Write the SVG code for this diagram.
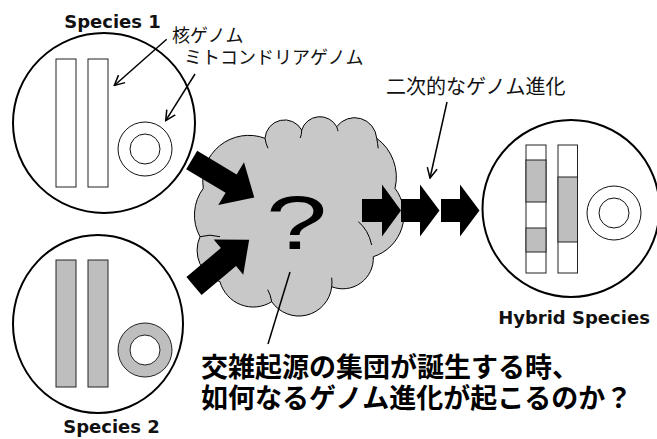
<svg xmlns="http://www.w3.org/2000/svg" width="657" height="439" viewBox="0 0 657 439">
  <style>
    .cell { fill: none; stroke: #000; stroke-width: 2; }
    .bar { fill: #fff; stroke: #222; stroke-width: 1; }
    .bar-g { fill: #bebebe; stroke: #222; stroke-width: 1; }
    .mito { fill: none; stroke: #111; stroke-width: 1; }
    .mito-g { fill: #bebebe; stroke: #222; stroke-width: 1; }
    .title { font-family: "DejaVu Sans", Verdana, sans-serif; font-weight: bold; font-size: 18px; fill: #111; text-anchor: middle; }
    .note { font-family: "Noto Sans CJK JP", "Noto Sans", sans-serif; fill: #111; }
    .big { font-family: "Noto Sans CJK JP", "Noto Sans", sans-serif; font-weight: bold; font-size: 27px; fill: #000; }
    .block { fill: #000; }
    .callout { fill: none; stroke: #000; stroke-width: 1.5; }
    .cloud { fill: #c8c8c8; stroke: #000; stroke-width: 1; }
    .cloud-inner { fill: none; stroke: #000; stroke-width: 1; }
  </style>
  <defs>
    <marker id="open-head" viewBox="0 0 12 12" refX="11" refY="6" markerWidth="12" markerHeight="12" markerUnits="userSpaceOnUse" orient="auto">
      <path d="M1,1 L11,6 L1,11" fill="none" stroke="#000" stroke-width="1.5"/>
    </marker>
  </defs>

  <!-- Species 1 -->
  <g id="species1">
    <ellipse class="cell" cx="104" cy="123" rx="91" ry="90"/>
    <rect class="bar" x="56" y="59" width="20" height="128"/>
    <rect class="bar" x="88" y="59" width="20" height="128"/>
    <circle class="mito" cx="145" cy="149" r="27"/>
    <circle class="mito" cx="145" cy="149" r="15"/>
    <text class="title" x="112.5" y="28">Species 1</text>
  </g>

  <!-- Species 2 -->
  <g id="species2">
    <ellipse class="cell" cx="98" cy="324" rx="85" ry="89"/>
    <rect class="bar-g" x="56" y="260" width="20" height="127"/>
    <rect class="bar-g" x="88" y="260" width="20" height="127"/>
    <circle class="mito-g" cx="145" cy="350" r="27"/>
    <circle cx="145" cy="350" r="15" fill="#fff" stroke="#222" stroke-width="1"/>
    <text class="title" x="111.5" y="433">Species 2</text>
  </g>

  <!-- Hybrid species -->
  <g id="hybrid">
    <circle class="cell" cx="571" cy="208.5" r="88.5"/>
    <rect class="bar" x="526" y="145" width="20" height="128"/>
    <rect class="bar-g" x="526" y="160" width="20" height="42"/>
    <rect class="bar-g" x="526" y="228" width="20" height="24"/>
    <rect class="bar" x="558" y="145" width="19.5" height="128"/>
    <rect class="bar-g" x="558" y="177" width="19.5" height="65"/>
    <circle class="mito" cx="614" cy="213" r="27"/>
    <circle class="mito" cx="614" cy="213" r="15"/>
    <text class="title" x="574" y="324">Hybrid Species</text>
  </g>

  <!-- Hybridisation cloud -->
  <g id="cloud">
    <path class="cloud" d="M200,236.7 A45,45 0 0 1 203.3,188.3 A46,46 0 0 1 265,138.3 A19.6,19.6 0 0 1 301.7,130 A19.1,19.1 0 0 1 336.7,126.7 A22.2,22.2 0 0 1 376.7,138.3 A48,48 0 0 1 395,188.3 A44,44 0 0 1 373.3,256.7 A30.5,30.5 0 0 1 331.7,286.7 A33,33 0 0 1 271.7,301.7 A34.5,34.5 0 0 1 220,281.7 A33,33 0 0 1 200,236.7 Z"/>
    <path class="cloud-inner" d="M200,236.7 q10,-3 20,0 M265,138.3 q1,6 3,10 M301.7,130 q0,5 -1.5,8 M336.7,126.7 q1,3 1.3,4.5 M376.7,138.3 q1,5 1.5,10 M358.3,221.7 q10,8 13.4,23.3 M331.7,286.7 q0.5,-5 0,-9 M271.7,301.7 q-1,-7 -4,-12"/>
    <text x="0" y="0" transform="translate(296.7,249) scale(1.45,1)" font-family="'Liberation Sans', Arial, sans-serif" font-size="76" text-anchor="middle" fill="#000">?</text>
  </g>

  <!-- Connectors -->
  <g id="connectors">
    <!-- block arrows into the cloud -->
    <polygon class="block" transform="translate(191.7,160) rotate(31)" points="0,-10.7 46,-10.7 46,-25 73,0 46,25 46,10.7 0,10.7"/>
    <polygon class="block" transform="translate(194,286) rotate(-40)" points="0,-11.8 45,-11.8 45,-23 72,0 45,23 45,11.8 0,11.8"/>
    <!-- block arrows toward the hybrid -->
    <polygon class="block" points="362,199 382,199 382,184.5 401,210.5 382,236.5 382,222 362,222"/>
    <polygon class="block" points="401,199 420,199 420,184.5 439.5,210.5 420,236.5 420,222 401,222"/>
    <polygon class="block" points="441,199 460,199 460,184.5 479.5,210.5 460,236.5 460,222 441,222"/>
    <!-- callout arrows -->
    <line class="callout" x1="166.7" y1="39.3" x2="114.3" y2="85.5" marker-end="url(#open-head)"/>
    <line class="callout" x1="195" y1="74" x2="165.7" y2="120.7" marker-end="url(#open-head)"/>
    <line class="callout" x1="447" y1="102" x2="430" y2="178" marker-end="url(#open-head)"/>
    <line class="callout" x1="290" y1="272" x2="268" y2="344"/>
  </g>

  <!-- Labels -->
  <g id="labels">
    <text class="note" x="172" y="42" font-size="18">核ゲノム</text>
    <text class="note" x="184" y="64" font-size="18">ミトコンドリアゲノム</text>
    <text class="note" x="386" y="94" font-size="20">二次的なゲノム進化</text>
    <text class="big" x="201" y="377">交雑起源の集団が誕生する時、</text>
    <text class="big" x="201" y="408">如何なるゲノム進化が起こるのか？</text>
  </g>
</svg>
